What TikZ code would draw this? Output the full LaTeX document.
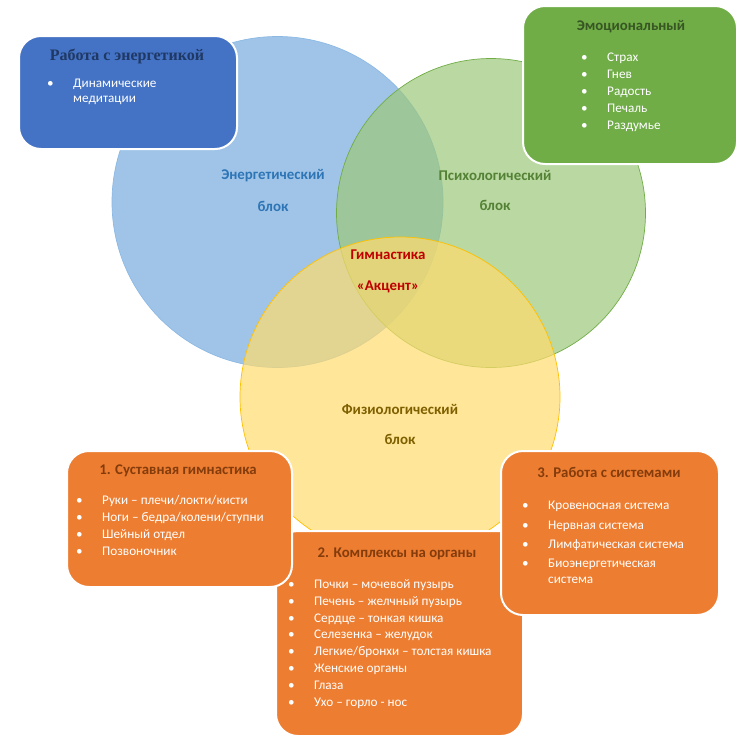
\documentclass[tikz,border=0pt]{standalone}
\usepackage{fontspec}
\setmainfont{Carlito}
\newfontfamily\titleserif{Liberation Serif}
\definecolor{cBlue}{RGB}{119,171,222}
\definecolor{cBlueD}{RGB}{140,185,228}
\definecolor{cGreen}{RGB}{156,199,122}
\definecolor{cGreenD}{RGB}{112,173,71}
\definecolor{cYellow}{RGB}{255,219,109}
\definecolor{cYellowD}{RGB}{255,192,0}
\definecolor{bBlue}{RGB}{68,114,196}
\definecolor{bGreen}{RGB}{112,173,71}
\definecolor{bOrange}{RGB}{237,125,49}
\definecolor{tNavy}{RGB}{31,56,100}
\definecolor{tDGreen}{RGB}{55,86,35}
\definecolor{tBrown}{RGB}{132,60,12}
\definecolor{tBlue}{RGB}{46,117,182}
\definecolor{tGreen}{RGB}{84,130,53}
\definecolor{tRed}{RGB}{192,0,0}
\definecolor{tGold}{RGB}{127,96,0}
\tikzset{
  venn/.style={circle, inner sep=0pt, line width=0.7pt, fill opacity=0.7},
  card/.style={draw=white, line width=2pt, rounded corners=22pt, inner sep=0pt, anchor=north west},
  ttl/.style={font=\bfseries\fontsize{14.8}{17}\selectfont, inner sep=0pt},
  itm/.style={anchor=west, text=white, font=\fontsize{13.2}{15}\selectfont, inner sep=0pt, text height=9.5pt, text depth=3pt},
  lbl/.style={font=\bfseries\fontsize{14.9}{17}\selectfont, inner sep=0pt}
}
\newcommand{\bul}{\makebox[26pt][l]{•}}
\begin{document}
\begin{tikzpicture}[x=1pt,y=-1pt]
\useasboundingbox (0,0) rectangle (747,750);
% circles
\node[venn, fill=cBlue, draw=cBlueD, minimum size=331pt] (cblue) at (277.5,202) {};
\node[venn, fill=cGreen, draw=cGreenD, minimum size=309pt] (cgreen) at (491,213) {};
\node[venn, fill=cYellow, draw=cYellowD, minimum size=320pt] (cyellow) at (400,397) {};
% circle labels
\node[lbl, text=tBlue] (le1) at (273,176) {Энергетический};
\node[lbl, text=tBlue] (le2) at (273,206) {блок};
\node[lbl, text=tGreen] (lp1) at (495,175) {Психологический};
\node[lbl, text=tGreen] (lp2) at (495,205) {блок};
\node[lbl, text=tRed] (lg1) at (388,255) {Гимнастика};
\node[lbl, text=tRed] (lg2) at (388,287) {«Акцент»};
\node[lbl, text=tGold] (lf1) at (400,409) {Физиологический};
\node[lbl, text=tGold] (lf2) at (400,439) {блок};
% energy box
\node[card, fill=bBlue, minimum width=218pt, minimum height=113pt] (benergy) at (18,35) {};
\node[ttl, text=tNavy, font=\titleserif\bfseries\fontsize{16}{18}\selectfont] (tenergy) at (127,56) {Работа с энергетикой};
\node[itm] (ie1) at (47,84) {\bul Динамические};
\node[itm] (ie2) at (73,99) {медитации};
% emotional box
\node[card, fill=bGreen, minimum width=214pt, minimum height=158pt] (bemo) at (522,5) {};
\node[ttl, text=tDGreen] (temo) at (631,27) {Эмоциональный};
\foreach [count=\i] \t in {Страх, Гнев, Радость, Печаль, Раздумье}
  \node[itm] (im\i) at (581,{58+17*(\i-1)}) {\bul\t};
% box 2 (organs)
\node[card, fill=bOrange, minimum width=247pt, minimum height=205pt] (borg) at (275,530) {};
\node[ttl, text=tBrown] (torg) at (397,554) {2. Комплексы на органы};
\foreach [count=\i] \t in {Почки – мочевой пузырь, Печень – желчный пузырь, Сердце – тонкая кишка, Селезенка – желудок, Легкие/бронхи – толстая кишка, Женские органы, Глаза, Ухо – горло - нос}
  \node[itm] (io\i) at (288,{585+16.9*(\i-1)}) {\bul\t};
% box 1 (joints)
\node[card, fill=bOrange, minimum width=225pt, minimum height=136pt] (bjoint) at (66,450) {};
\node[ttl, text=tBrown] (tjoint) at (178,471) {1. Суставная гимнастика};
\foreach [count=\i] \t in {Руки – плечи/локти/кисти, Ноги – бедра/колени/ступни, Шейный отдел, Позвоночник}
  \node[itm] (ij\i) at (76,{501+17*(\i-1)}) {\bul\t};
% box 3 (systems)
\node[card, fill=bOrange, minimum width=218pt, minimum height=164pt] (bsys) at (500,450) {};
\node[ttl, text=tBrown] (tsys) at (609,472) {3. Работа с системами};
\node[itm] (is1) at (522,506) {\bul Кровеносная система};
\node[itm] (is2) at (522,526) {\bul Нервная система};
\node[itm] (is3) at (522,545) {\bul Лимфатическая система};
\node[itm] (is4) at (522,564) {\bul Биоэнергетическая};
\node[itm] (is5) at (548,580) {система};
\end{tikzpicture}
\end{document}
